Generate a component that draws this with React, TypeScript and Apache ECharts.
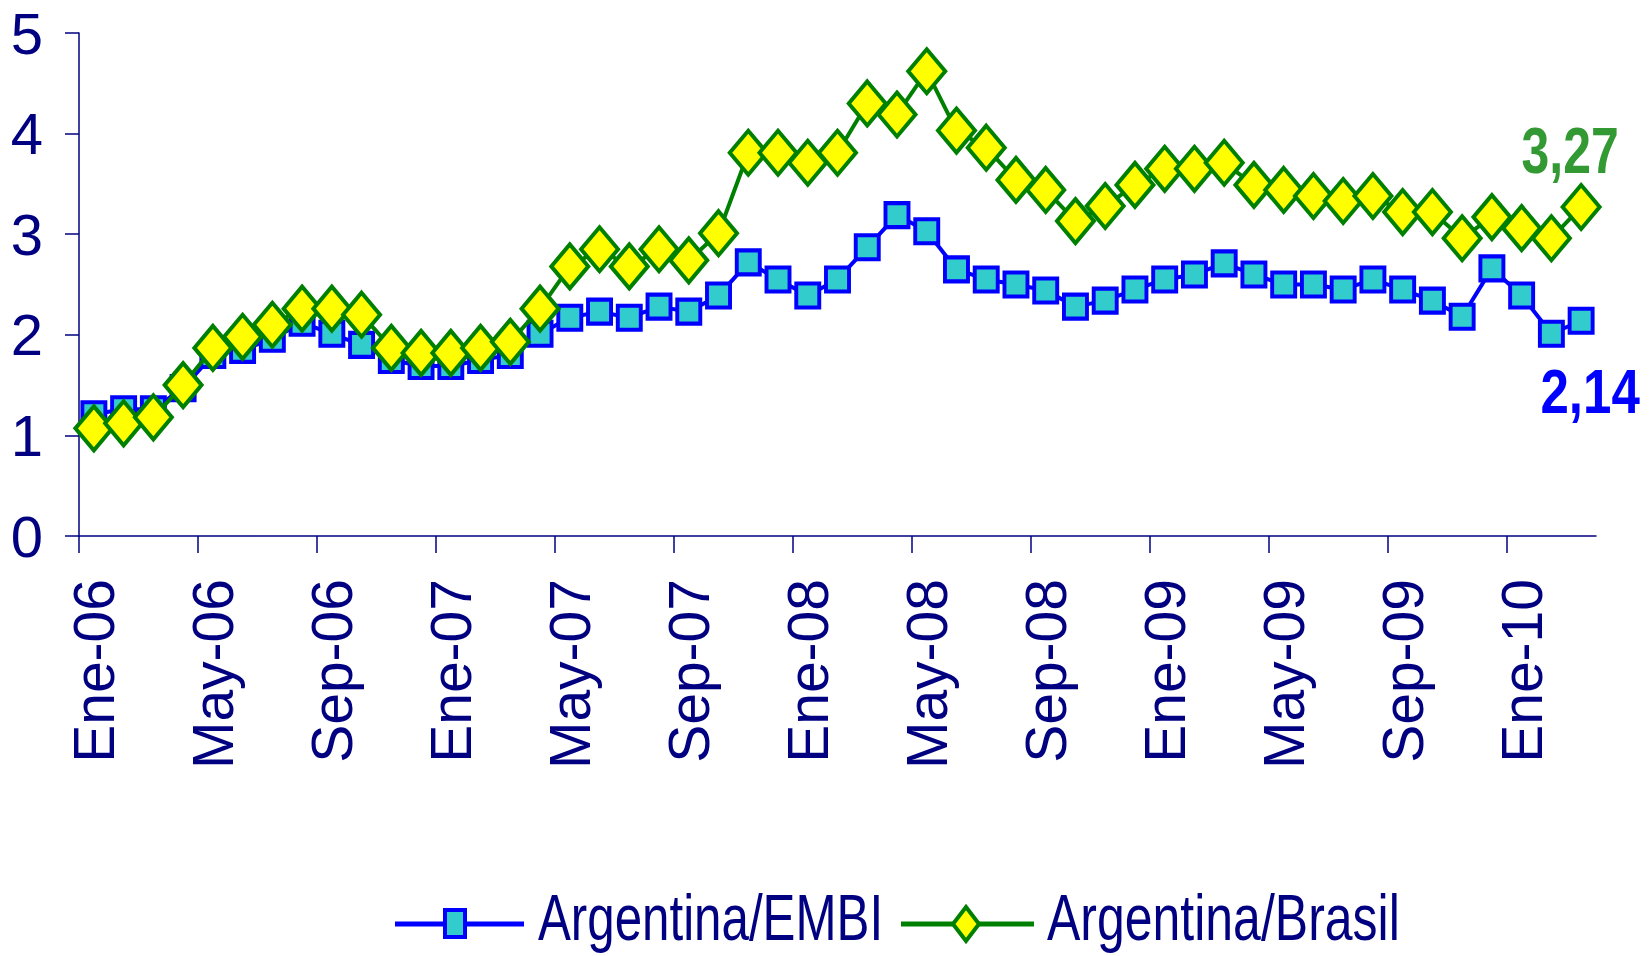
import React, { useEffect, useRef } from "react";
import * as echarts from "echarts";

const categories = [
  "Ene-06", "Feb-06", "Mar-06", "Abr-06", "May-06", "Jun-06", "Jul-06", "Ago-06", "Sep-06", "Oct-06", "Nov-06", "Dic-06",
  "Ene-07", "Feb-07", "Mar-07", "Abr-07", "May-07", "Jun-07", "Jul-07", "Ago-07", "Sep-07", "Oct-07", "Nov-07", "Dic-07",
  "Ene-08", "Feb-08", "Mar-08", "Abr-08", "May-08", "Jun-08", "Jul-08", "Ago-08", "Sep-08", "Oct-08", "Nov-08", "Dic-08",
  "Ene-09", "Feb-09", "Mar-09", "Abr-09", "May-09", "Jun-09", "Jul-09", "Ago-09", "Sep-09", "Oct-09", "Nov-09", "Dic-09",
  "Ene-10", "Feb-10", "Mar-10",
];

const argentinaEmbi = [
  1.21, 1.26, 1.26, 1.47, 1.80, 1.85, 1.96, 2.12, 2.01, 1.90, 1.75, 1.69,
  1.69, 1.75, 1.80, 2.01, 2.17, 2.23, 2.17, 2.28, 2.23, 2.39, 2.72, 2.55,
  2.39, 2.55, 2.87, 3.19, 3.03, 2.65, 2.55, 2.50, 2.44, 2.28, 2.34, 2.45,
  2.55, 2.60, 2.71, 2.60, 2.50, 2.50, 2.45, 2.55, 2.45, 2.34, 2.18, 2.66,
  2.39, 2.01, 2.14,
];

const argentinaBrasil = [
  1.07, 1.12, 1.18, 1.50, 1.87, 1.98, 2.10, 2.26, 2.26, 2.20, 1.87, 1.82,
  1.82, 1.87, 1.93, 2.26, 2.68, 2.85, 2.68, 2.85, 2.74, 3.01, 3.81, 3.81,
  3.71, 3.81, 4.30, 4.19, 4.62, 4.03, 3.86, 3.54, 3.44, 3.13, 3.28, 3.49,
  3.65, 3.65, 3.71, 3.49, 3.44, 3.38, 3.33, 3.38, 3.22, 3.22, 2.96, 3.17,
  3.06, 2.96, 3.27,
];

const seriesNames = ["Argentina/EMBI", "Argentina/Brasil"];

// x-axis tick marks sit on the category boundaries before every 4th month
const tickBoundaries = [0, 4, 8, 12, 16, 20, 24, 28, 32, 36, 40, 44, 48];

const NAVY = "#000080";
const BLUE = "#0000FF";
const TEAL = "#33CCCC";
const GREEN = "#008000";
const YELLOW = "#FFFF00";
const LABEL_GREEN = "#339933";
const FONT = "'Liberation Sans', Arial, sans-serif";

const fmt = (v: number) => v.toFixed(2).replace(".", ",");

export default function App() {
  const ref = useRef<HTMLDivElement>(null);

  useEffect(() => {
    if (!ref.current) return;
    const chart = echarts.init(ref.current, null, { renderer: "svg" });
    chart.setOption({
      animation: false,
      backgroundColor: "#ffffff",
      grid: { left: 79, right: 55, top: 33, bottom: 420 },
      xAxis: [
        {
          type: "category",
          data: categories,
          boundaryGap: true,
          position: "bottom",
          axisLine: { show: true, lineStyle: { color: NAVY, width: 1.5 } },
          axisTick: { show: false },
          axisLabel: {
            interval: 3,
            rotate: 90,
            margin: 43,
            fontFamily: FONT,
            fontSize: 57,
            color: NAVY,
          },
          splitLine: { show: false },
        },
        {
          type: "value",
          position: "bottom",
          min: 0,
          max: categories.length,
          axisLine: { show: false },
          axisLabel: { show: false },
          splitLine: { show: false },
          axisTick: {
            show: true,
            length: 17,
            customValues: tickBoundaries,
            lineStyle: { color: NAVY, width: 1.5 },
          },
        },
      ],
      yAxis: {
        type: "value",
        min: 0,
        max: 5,
        interval: 1,
        axisLine: { show: true, lineStyle: { color: NAVY, width: 1.5 } },
        axisTick: { show: true, length: 14, lineStyle: { color: NAVY, width: 1.5 } },
        axisLabel: {
          margin: 36,
          fontFamily: FONT,
          fontSize: 58,
          color: NAVY,
        },
        splitLine: { show: false },
      },
      series: [
        {
          name: seriesNames[0],
          type: "line",
          xAxisIndex: 0,
          data: argentinaEmbi,
          showAllSymbol: true,
          symbol: "rect",
          symbolSize: [23, 24],
          lineStyle: { color: BLUE, width: 4 },
          itemStyle: { color: TEAL, borderColor: BLUE, borderWidth: 4 },
          z: 2,
        },
        {
          name: seriesNames[1],
          type: "line",
          xAxisIndex: 0,
          data: argentinaBrasil,
          showAllSymbol: true,
          symbol: "diamond",
          symbolSize: [37, 44],
          lineStyle: { color: GREEN, width: 4 },
          itemStyle: { color: YELLOW, borderColor: GREEN, borderWidth: 4 },
          z: 3,
        },
      ],
    });

    // End-of-series value labels, placed through the chart's own scales
    const lastIdx = categories.length - 1;
    const embiLast = argentinaEmbi[argentinaEmbi.length - 1];
    const brasilLast = argentinaBrasil[argentinaBrasil.length - 1];
    const pE = chart.convertToPixel({ seriesIndex: 0 }, [lastIdx, embiLast]) as number[];
    const pB = chart.convertToPixel({ seriesIndex: 1 }, [lastIdx, brasilLast]) as number[];

    // Legend (drawn as graphics to reproduce the condensed lettering)
    const iconY = 924;
    const textY = 918;
    const legendFont = { fontFamily: FONT, fontSize: 64, fill: NAVY, align: "left", verticalAlign: "middle" };

    chart.setOption({
      graphic: [
        {
          type: "text",
          x: pB[0] - 11,
          y: pB[1] - 56,
          scaleX: 0.78,
          z: 10,
          style: {
            text: fmt(brasilLast),
            fontFamily: FONT,
            fontWeight: "bold",
            fontSize: 64,
            fill: LABEL_GREEN,
            align: "center",
            verticalAlign: "middle",
          },
        },
        {
          type: "text",
          x: pE[0] + 9,
          y: pE[1] + 70,
          scaleX: 0.81,
          z: 10,
          style: {
            text: fmt(embiLast),
            fontFamily: FONT,
            fontWeight: "bold",
            fontSize: 63,
            fill: BLUE,
            align: "center",
            verticalAlign: "middle",
          },
        },
        {
          type: "line",
          shape: { x1: 395, y1: iconY, x2: 524, y2: iconY },
          style: { stroke: BLUE, lineWidth: 5 },
        },
        {
          type: "rect",
          shape: { x: 445, y: iconY - 14, width: 20, height: 27 },
          style: { fill: TEAL, stroke: BLUE, lineWidth: 4 },
        },
        {
          type: "text",
          x: 538,
          y: textY,
          scaleX: 0.77,
          style: { ...legendFont, text: seriesNames[0] },
        },
        {
          type: "line",
          shape: { x1: 901, y1: iconY, x2: 1034, y2: iconY },
          style: { stroke: GREEN, lineWidth: 5 },
        },
        {
          type: "polygon",
          shape: { points: [[966, iconY - 17], [979, iconY], [966, iconY + 17], [953, iconY]] },
          style: { fill: YELLOW, stroke: GREEN, lineWidth: 4 },
        },
        {
          type: "text",
          x: 1047,
          y: textY,
          scaleX: 0.781,
          style: { ...legendFont, text: seriesNames[1] },
        },
      ],
    });
    return () => chart.dispose();
  }, []);

  return (
    <div
      ref={ref}
      style={{ position: "fixed", left: 0, top: 0, width: 1651, height: 956, background: "#fff" }}
    />
  );
}
